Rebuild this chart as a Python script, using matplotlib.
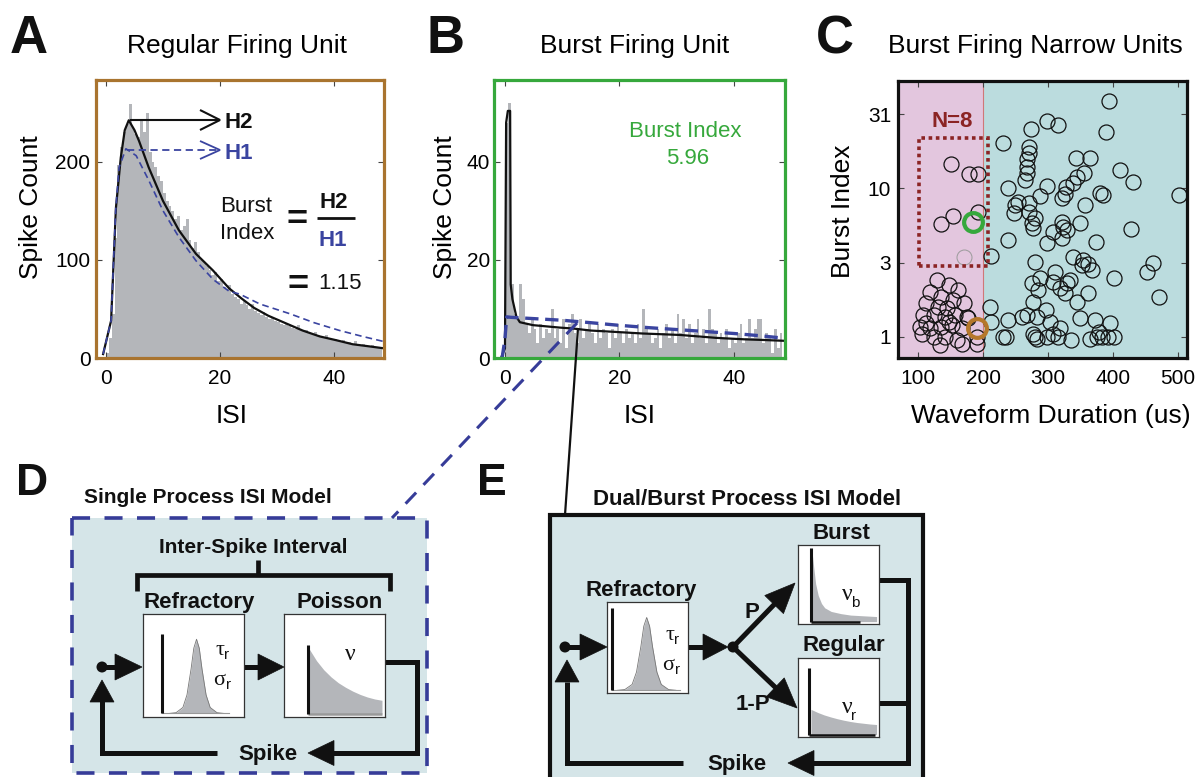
import numpy as np
import matplotlib
matplotlib.use("Agg")
import matplotlib.pyplot as plt
from matplotlib.patches import Rectangle, Polygon, Circle
from matplotlib.ticker import NullLocator

plt.rcParams['font.family'] = ['Liberation Sans', 'DejaVu Sans']

# ------------------------------------------------------------------ data
bin_width = 0.5
regular_counts = [5, 20, 45, 122, 196, 215, 230, 238, 259, 235, 228, 225, 242, 230, 249, 210,
                  200, 194, 185, 180, 168, 160, 155, 150, 142, 145, 130, 134, 142, 120, 112, 118,
                  108, 100, 98, 94, 90, 85, 88, 78, 80, 72, 70, 74, 65, 62, 60, 55,
                  58, 54, 50, 55, 48, 46, 44, 47, 42, 40, 41, 38, 37, 35, 34, 36,
                  33, 31, 30, 34, 28, 27, 29, 25, 24, 26, 23, 22, 21, 23, 20, 19,
                  19, 17, 16, 18, 15, 16, 14, 17, 13, 12, 14, 12, 11, 13, 11, 10, 11]
regular_fit_x = [-0.5, 0.9, 1.75, 2.6, 3.3, 4.0, 5.0, 5.8, 7.5, 10, 12.8, 15.8, 18.8, 21.6,
                 23.7, 26, 28.5, 31.7, 34.5, 37.5, 40.5, 43.3, 46, 48.6]
regular_fit_y = [4, 38, 153, 204, 232, 242, 232, 221, 194, 160, 130, 106, 89, 71,
                 61, 51, 43, 35, 28, 22, 18, 14, 12, 10]
regular_poisson_x = [-0.5, 0.9, 1.7, 2.3, 3.5, 5.3, 7.5, 10, 12.8, 15.8, 18.8, 21.6, 23.5,
                     27, 32.3, 36.5, 41, 45, 48.6]
regular_poisson_y = [4, 38, 150, 194, 213, 206, 181, 150, 123, 99, 80, 68, 65,
                     55, 45, 36, 28, 22, 17]

burst_counts = [48, 52, 15, 9, 8, 15, 12, 7, 5, 8, 6, 3, 7, 4, 6, 5,
                10, 4, 6, 3, 8, 2, 7, 9, 5, 3, 8, 4, 6, 7, 5, 3,
                7, 4, 6, 5, 2, 6, 4, 7, 5, 3, 6, 4, 5, 3, 7, 4,
                10, 6, 5, 3, 4, 6, 2, 5, 7, 4, 6, 3, 9, 5, 8, 4,
                7, 3, 5, 8, 4, 6, 3, 10, 6, 5, 3, 5, 4, 6, 2, 4,
                3, 5, 7, 3, 4, 8, 4, 6, 8, 8, 3, 5, 4, 1, 6, 2, 5]
burst_fit_x = [-0.7, 0.0, 0.2, 0.5, 0.9, 1.0, 1.3, 2.0, 2.6, 4.9, 9.6, 12, 15, 19.6,
               24, 30.6, 37, 42, 44.6, 49]
burst_fit_y = [0, 2, 48, 50.4, 50.4, 15, 12, 8.4, 7.3, 6.7, 6.2, 6.0, 5.6, 5.3,
               5.0, 4.7, 4.1, 3.8, 3.7, 3.5]
burst_poisson_x = [-0.5, 0.0, 0.3, 1, 4, 10, 15, 19.6, 25, 30, 35, 40, 45, 49]
burst_poisson_y = [0, 4, 8.4, 8.3, 8.1, 7.7, 7.2, 6.7, 6.2, 5.8, 5.4, 5.0, 4.5, 4.0]

narrow_duration = [129, 147, 162, 118, 136, 154, 113, 131, 144, 170, 108, 124, 142, 157, 175,
                   103, 118, 136, 152, 167, 106, 124, 142, 160, 134, 167, 190, 177, 190, 113, 147,
                   150, 179, 193, 135, 154, 193]
narrow_burst_index = [2.41, 2.23, 2.06, 2.01, 1.86, 1.77, 1.68, 1.59, 1.55, 1.68, 1.40, 1.40, 1.36,
                      1.40, 1.36, 1.17, 1.14, 1.17, 1.20, 1.14, 1.05, 1.0, 1.0, 0.95, 0.88, 0.90,
                      1.0, 1.33, 0.90, 1.23, 1.26,
                      14.5, 12.5, 12.5, 5.75, 6.54, 6.96]
wide_duration = [394, 298, 315, 274, 389, 230, 270, 270, 267, 267, 267, 265, 343, 364, 411,
                 430, 355, 344, 339, 328, 326, 321, 298, 238, 380, 384, 502, 254, 249, 247,
                 270, 288, 270, 280, 275, 277, 321, 349, 323, 329, 308, 357, 428, 298, 239,
                 374, 321, 213, 280, 339, 354, 352, 367, 362, 401, 452, 462, 471, 275, 288,
                 311, 308, 329, 319, 334, 285, 326, 277, 297, 344, 362, 211, 283, 267, 303,
                 239, 260, 349, 372, 395, 378, 308, 319, 231, 236, 280, 283, 298, 316, 336,
                 365, 375, 383, 401, 393, 277, 213]
wide_burst_index = [38.8, 28.6, 26.7, 25.0, 23.9, 20.1, 18.9, 17.2, 15.7, 14.0, 12.6, 11.4, 16.1,
                    16.1, 13.3, 11.0, 12.6, 11.9, 10.8, 10.2, 9.16, 8.57, 10.4, 10.0, 9.35, 9.02,
                    9.02, 8.13, 7.72, 6.78, 7.93, 8.88, 6.96, 6.28, 5.81, 5.37, 5.96, 5.81, 5.52,
                    5.24, 5.1, 7.72, 5.3, 4.26, 4.49, 4.37, 4.6, 3.5, 3.2, 3.46, 3.29, 3.04, 2.81,
                    3.09, 2.47, 2.74, 3.12, 1.86, 2.29, 2.47, 2.74, 2.35, 2.29, 2.12, 2.41, 2.06,
                    1.96, 1.72, 1.51, 1.72, 1.96, 1.59, 1.36, 1.40, 1.26, 1.29, 1.36, 1.33, 1.29,
                    1.23, 1.08, 1.05, 1.14, 1.0, 1.0, 1.0, 0.96, 1.0, 1.0, 0.95, 0.97, 1.0, 1.0,
                    1.0, 1.0, 1.05, 1.26]
faint_unit = (170, 3.43)
burst_unit = (185, 5.96)
regular_unit = (191, 1.15)
narrow_cutoff = 200
selection_box = (102, 208, 3.0, 21.9)   # x0, x1, y0, y1

c_xticks = [100, 200, 300, 400, 500]
c_yticks = [1, 10 ** 0.5, 10, 10 ** 1.5]
c_yticklabels = ['1', '3', '10', '31']

# schematic icon shapes (relative units)
gauss_icon_x = [-1.0, -0.75, -0.5, -0.35, -0.2, -0.1, 0.0, 0.1, 0.2, 0.35, 0.5, 0.75, 1.0]
gauss_icon_y = [0.0, 0.01, 0.08, 0.25, 0.6, 0.88, 1.0, 0.88, 0.6, 0.25, 0.08, 0.01, 0.0]
decay_icon_x = [0, 0.1, 0.2, 0.3, 0.4, 0.5, 0.6, 0.7, 0.8, 0.9, 1.0]
poisson_icon_y = [1.0, 0.82, 0.68, 0.57, 0.48, 0.41, 0.35, 0.30, 0.26, 0.23, 0.21]
regular_icon_y = [1.0, 0.88, 0.78, 0.70, 0.63, 0.57, 0.52, 0.48, 0.45, 0.42, 0.40]
burst_icon_x = [0, 0.03, 0.06, 0.1, 0.15, 0.2, 0.3, 0.45, 0.6, 0.8, 1.0]
burst_icon_y = [1.0, 0.75, 0.52, 0.36, 0.25, 0.19, 0.14, 0.11, 0.09, 0.08, 0.07]

# ------------------------------------------------------------------ style
GRAY = '#B4B6BA'
BROWN = '#A9742F'
GREEN = '#36A83C'
BLUE = '#3A44A0'
NAVY = '#363C98'
DARKRED = '#8B2424'
PINK = '#E3C6DE'
TEAL = '#BBDCDE'
PANEL = '#D5E5E8'
ORANGE = '#B5782B'
INK = '#111111'

W, H = 1201, 777
fig = plt.figure(figsize=(W / 100, H / 100), dpi=100)


def rect(l, t, r, b):
    return [l / W, 1 - b / H, (r - l) / W, (b - t) / H]


def style_axes(ax, color, lw, ypad, xpad=8):
    for s in ax.spines.values():
        s.set_color(color)
        s.set_linewidth(lw)
    ax.tick_params(direction='in', length=4, width=0.8, top=True, right=True,
                   labelsize=15, color='#444444')
    ax.tick_params(axis='y', pad=ypad)
    ax.tick_params(axis='x', pad=xpad)


def labels(ax, box, xl, xl_x, yl, yl_x, yl_y, title, title_x, size=19):
    l, t, r, b = box
    w, h = r - l, b - t
    ax.set_xlabel(xl, fontsize=size)
    ax.xaxis.set_label_coords((xl_x - l) / w, (b - 423) / h)
    ax.xaxis.label.set_va('baseline')
    ax.set_ylabel(yl, fontsize=size)
    ax.yaxis.set_label_coords((yl_x - l) / w, (b - yl_y) / h)
    ax.yaxis.label.set_va('center')
    ax.set_title(title, fontsize=size, x=(title_x - l) / w, y=(b - 53) / h,
                 va='baseline', pad=0)


# ---------------- Panel A
boxA = (96, 80, 384, 358)
axA = fig.add_axes(rect(*boxA))
edgesA = np.arange(len(regular_counts)) * bin_width
axA.bar(edgesA, regular_counts, width=bin_width, align='edge', color=GRAY, linewidth=0)
axA.plot(regular_fit_x, regular_fit_y, color=INK, lw=1.6)
axA.plot(regular_poisson_x, regular_poisson_y, color=BLUE, lw=1.2, ls=(0, (4, 2.5)))
axA.set_xlim(-1.75, 48.8)
axA.set_ylim(0, 283)
axA.set_xticks([0, 20, 40])
axA.set_yticks([0, 100, 200])
style_axes(axA, BROWN, 2.3, 4)
labels(axA, boxA, 'ISI', 232, 'Spike Count', 31, 207, 'Regular Firing Unit', 237)

# ---------------- Panel B
boxB = (494, 80, 785, 358)
axB = fig.add_axes(rect(*boxB))
edgesB = np.arange(len(burst_counts)) * bin_width
axB.bar(edgesB, burst_counts, width=bin_width, align='edge', color=GRAY, linewidth=0)
axB.plot(burst_fit_x, burst_fit_y, color=INK, lw=1.6)
axB.plot(burst_poisson_x, burst_poisson_y, color=BLUE, lw=2.4, ls=(0, (4, 2)))
axB.set_xlim(-1.92, 48.95)
axB.set_ylim(0, 56.7)
axB.set_xticks([0, 20, 40])
axB.set_yticks([0, 20, 40])
style_axes(axB, GREEN, 2.3, 3)
labels(axB, boxB, 'ISI', 640, 'Spike Count', 445, 207, 'Burst Firing Unit', 635)

# ---------------- Panel C
boxC = (898, 81, 1187, 358)
axC = fig.add_axes(rect(*boxC))
axC.set_yscale('log')
axC.set_xlim(69.2, 513.8)
axC.set_ylim(0.719, 52.8)
axC.axvspan(0, narrow_cutoff, color=PINK, lw=0, zorder=0)
axC.axvspan(narrow_cutoff, 600, color=TEAL, lw=0, zorder=0)
axC.axvline(narrow_cutoff, color='#D07878', lw=0.8, zorder=1)
axC.plot(narrow_duration, narrow_burst_index, ls='none', marker='o', ms=10.8,
         mfc='none', mec=INK, mew=0.9, zorder=3)
axC.plot(wide_duration, wide_burst_index, ls='none', marker='o', ms=10.8,
         mfc='none', mec=INK, mew=0.9, zorder=3)
axC.plot([faint_unit[0]], [faint_unit[1]], ls='none', marker='o', ms=10.8,
         mfc='none', mec='#9a9a9a', mew=0.7, zorder=3)
axC.plot([burst_unit[0]], [burst_unit[1]], ls='none', marker='o', ms=13.5,
         mfc='none', mec=GREEN, mew=3.0, zorder=4)
axC.plot([regular_unit[0]], [regular_unit[1]], ls='none', marker='o', ms=13.5,
         mfc='none', mec=ORANGE, mew=3.0, zorder=4)
sx0, sx1, sy0, sy1 = selection_box
axC.add_patch(Rectangle((sx0, sy0), sx1 - sx0, sy1 - sy0, fill=False, ec=DARKRED,
                        lw=2.6, ls=(0, (1, 1)), zorder=5))
axC.text((sx0 + sx1) / 2 - 2, 26, 'N=8', color=DARKRED, fontsize=16, fontweight='bold',
         ha='center', va='baseline')
axC.set_xticks(c_xticks)
axC.set_yticks(c_yticks)
axC.set_yticklabels(c_yticklabels)
axC.yaxis.set_minor_locator(NullLocator())
style_axes(axC, INK, 2.3, 5)
labels(axC, boxC, 'Waveform Duration (us)', 1051, 'Burst Index', 843, 211,
       'Burst Firing Narrow Units', 1035)

# ---------------- overlay (pixel coordinates) for annotations and diagrams
ov = fig.add_axes([0, 0, 1, 1], zorder=10)
ov.set_xlim(0, W)
ov.set_ylim(H, 0)
ov.axis('off')

# top overlay for labels that sit on the icon insets
ovt = fig.add_axes([0, 0, 1, 1], zorder=12)
ovt.set_xlim(0, W)
ovt.set_ylim(H, 0)
ovt.axis('off')


def txt(x, y, s, size, bold=False, color=INK, ha='center', va='baseline', family=None, on=None):
    kw = dict(fontsize=size, color=color, ha=ha, va=va,
              fontweight='bold' if bold else 'normal')
    if family:
        kw['family'] = family
    (on or ov).text(x, y, s, **kw)


def line(xs, ys, lw=3.6, color=INK, **kw):
    ov.plot(xs, ys, color=color, lw=lw, solid_joinstyle='miter', solid_capstyle='butt', **kw)


def head(xt, yt, ux, uy, L=26, Wd=26):
    bx, by = xt - ux * L, yt - uy * L
    px, py = -uy, ux
    ov.add_patch(Polygon([(xt, yt), (bx + px * Wd / 2, by + py * Wd / 2),
                          (bx - px * Wd / 2, by - py * Wd / 2)], closed=True,
                         fc=INK, ec=INK, lw=0.5, zorder=3))


def arrow(x0, y0, x1, y1, L=26, Wd=26, lw=3.6):
    d = np.hypot(x1 - x0, y1 - y0)
    ux, uy = (x1 - x0) / d, (y1 - y0) / d
    line([x0, x1 - ux * (L - 2)], [y0, y1 - uy * (L - 2)], lw=lw)
    head(x1, y1, ux, uy, L, Wd)


def dot(x, y, r=5.5):
    ov.add_patch(Circle((x, y), r, fc=INK, ec='none', zorder=3))


# panel letters
for s, x, y, size in [('A', 29, 53, 38), ('B', 445, 53, 38), ('C', 835, 53, 38),
                      ('D', 32, 495, 32), ('E', 492, 495, 32)]:
    txt(x, y, s, size, bold=True)

# Panel A annotations
line([130, 220], [120, 120], lw=1.5)
line([200, 220, 200], [110, 120, 130], lw=1.5)
txt(225, 128, 'H2', 16, bold=True, ha='left')
ov.plot([127, 218], [150, 150], color=BLUE, lw=1.3, ls=(0, (4, 2.5)))
line([200, 220, 200], [141, 150, 159], lw=1.3, color=BLUE)
txt(225, 159, 'H1', 16, bold=True, color=BLUE, ha='left')
txt(220, 212, 'Burst', 16, ha='left')
txt(220, 239, 'Index', 16, ha='left')
txt(297, 230, '=', 26, bold=True)
txt(334, 208, 'H2', 16, bold=True)
line([317, 355], [218, 218], lw=2.0)
txt(333, 246, 'H1', 16, bold=True, color=BLUE)
txt(298, 295, '=', 26, bold=True)
txt(318, 289, '1.15', 16, ha='left')

# Panel B annotations
txt(685, 137, 'Burst Index', 16, color=GREEN)
txt(688, 164, '5.96', 16, color=GREEN)

# connectors from B to D/E
ov.plot([577, 392], [323, 518], color=NAVY, lw=2.2, ls=(0, (5, 3.5)))
line([578, 565], [328, 515], lw=1.6)

# ---------------- Panel D diagram
ov.add_patch(Rectangle((72, 518), 355, 255, fc=PANEL, ec=NAVY, lw=2.6,
                       ls=(0, (5, 4)), zorder=1))
txt(208, 503, 'Single Process ISI Model', 15, bold=True)
txt(253, 553, 'Inter-Spike Interval', 15, bold=True)
line([137, 137, 390, 390], [591, 575, 575, 591], lw=3.4)
line([258, 258], [575, 560], lw=3.4)
txt(199, 608, 'Refractory', 16, bold=True)
txt(340, 608, 'Poisson', 16, bold=True)
dot(102, 667)
arrow(102, 667, 142, 667, L=27, Wd=26)
arrow(244, 667, 284, 667, L=26, Wd=26)
line([385, 417, 417, 332], [662, 662, 753, 753])
head(308, 753, -1, 0, L=26, Wd=25)
txt(268, 760, 'Spike', 16, bold=True)
line([217, 102, 102], [753, 753, 700])
head(102, 680, 0, -1, L=22, Wd=24)

# ---------------- Panel E diagram
ov.add_patch(Rectangle((550, 515), 373, 290, fc=PANEL, ec=INK, lw=3.0, zorder=1))
txt(747, 505, 'Dual/Burst Process ISI Model', 16, bold=True)
txt(641, 596, 'Refractory', 16, bold=True)
dot(565, 647)
arrow(565, 647, 607, 647, L=27, Wd=26)
arrow(688, 647, 728, 647, L=25, Wd=26)
dot(733, 647)
arrow(733, 647, 795, 583, L=30, Wd=26)
arrow(733, 647, 797, 708, L=30, Wd=26)
txt(752, 618, 'P', 16, bold=True)
txt(753, 710, '1-P', 16, bold=True)
txt(841, 539, 'Burst', 16, bold=True)
txt(844, 651, 'Regular', 16, bold=True)
line([879, 908, 908, 813], [580, 580, 763, 763])
line([879, 908], [703, 703])
head(788, 763, -1, 0, L=26, Wd=25)
txt(737, 770, 'Spike', 16, bold=True)
line([683, 567, 567], [763, 763, 682])
head(567, 660, 0, -1, L=22, Wd=24)

# Greek labels (drawn above icon insets)
GREEK = ['Liberation Serif', 'DejaVu Serif']
for (gx, gy) in [(215, 655), (665, 640)]:
    txt(gx, gy, 'τ', 16, ha='left', family=GREEK, on=ovt)
    txt(gx + 9, gy + 4, 'r', 11, ha='left', on=ovt)
for (gx, gy) in [(213, 685), (662, 670)]:
    txt(gx, gy, 'σ', 16, ha='left', family=GREEK, on=ovt)
    txt(gx + 13, gy + 4, 'r', 11, ha='left', on=ovt)
txt(345, 660, 'ν', 17, ha='left', family=GREEK, on=ovt)
txt(842, 600, 'ν', 17, ha='left', family=GREEK, on=ovt)
txt(851, 607, 'b', 11, ha='left', on=ovt)
txt(842, 713, 'ν', 17, ha='left', family=GREEK, on=ovt)
txt(851, 720, 'r', 11, ha='left', on=ovt)


# ---------------- icon insets
def icon(box):
    a = fig.add_axes(rect(*box), zorder=11)
    a.set_xlim(0, 1)
    a.set_ylim(0, 1)
    a.set_xticks([])
    a.set_yticks([])
    for s in a.spines.values():
        s.set_linewidth(0.9)
        s.set_color('#333333')
    return a


def gauss_icon(a, bar_x, bar_top, center, half, height, base):
    xs = [center + half * v for v in gauss_icon_x]
    ys = [base + height * v for v in gauss_icon_y]
    a.fill_between(xs, base, ys, color=GRAY, lw=0)
    a.plot(xs, ys, color='#777777', lw=0.6)
    a.plot([bar_x, xs[-1] + 0.05], [base, base], color='#999999', lw=0.8)
    a.plot([bar_x, bar_x], [base, bar_top], color=INK, lw=2.2, solid_capstyle='butt')


def decay_icon(a, bar_x, bar_top, x0, x1, xs_rel, ys_rel, height, base, base_end, base_color):
    xs = [x0 + (x1 - x0) * v for v in xs_rel]
    ys = [base + height * v for v in ys_rel]
    a.fill_between(xs, base, ys, color=GRAY, lw=0)
    a.plot([bar_x, base_end], [base, base], color=base_color, lw=1.8, solid_capstyle='butt')
    a.plot([bar_x, bar_x], [base, bar_top], color=INK, lw=2.2, solid_capstyle='butt')


aD1 = icon((143, 614, 244, 717))
gauss_icon(aD1, 0.19, 0.81, 0.53, 0.27, 0.72, 0.035)
aD2 = icon((284, 614, 385, 717))
decay_icon(aD2, 0.24, 0.70, 0.25, 0.97, decay_icon_x, poisson_icon_y, 0.63, 0.03, 0.97, '#999999')
aE1 = icon((607, 602, 688, 693))
gauss_icon(aE1, 0.06, 0.93, 0.49, 0.36, 0.8, 0.03)
aE2 = icon((798, 545, 879, 624))
decay_icon(aE2, 0.16, 0.96, 0.17, 0.97, burst_icon_x, burst_icon_y, 0.92, 0.03, 0.77, INK)
aE3 = icon((798, 658, 879, 737))
decay_icon(aE3, 0.14, 0.87, 0.16, 0.97, decay_icon_x, regular_icon_y, 0.32, 0.03, 0.95, INK)

fig.savefig('out.png', dpi=100)
